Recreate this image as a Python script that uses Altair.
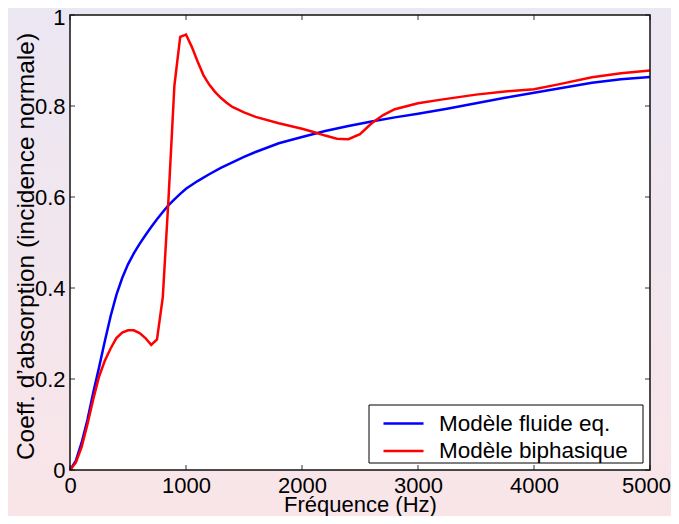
import altair as alt
import pandas as pd

# ---- data ----
freq_fluide = [0, 50, 100, 150, 200, 250, 300, 350, 400, 450, 500, 550, 600, 650, 700, 750, 800,
               850, 900, 950, 1000, 1100, 1200, 1300, 1400, 1500, 1600, 1800, 2000, 2200, 2400,
               2600, 2800, 3000, 3250, 3500, 3750, 4000, 4250, 4500, 4750, 5000]
abs_fluide = [0, 0.02, 0.06, 0.11, 0.17, 0.225, 0.283, 0.338, 0.385, 0.422, 0.452, 0.476, 0.497,
              0.516, 0.534, 0.551, 0.567, 0.582, 0.595, 0.607, 0.618, 0.635, 0.650, 0.664,
              0.676, 0.688, 0.699, 0.718, 0.732, 0.745, 0.756, 0.766, 0.775, 0.783, 0.794,
              0.806, 0.818, 0.829, 0.840, 0.851, 0.859, 0.864]

freq_bi = [0, 50, 100, 150, 200, 250, 300, 350, 400, 450, 500, 550, 600, 650, 700, 750, 800,
           850, 900, 950, 1000, 1050, 1100, 1150, 1200, 1250, 1300, 1350, 1400, 1500, 1600,
           1800, 2000, 2100, 2200, 2300, 2400, 2500, 2600, 2700, 2800, 3000, 3200, 3500, 3750,
           4000, 4200, 4500, 4750, 5000]
abs_bi = [0, 0.016, 0.05, 0.10, 0.155, 0.205, 0.24, 0.267, 0.29, 0.302, 0.307, 0.307, 0.301,
          0.29, 0.275, 0.287, 0.38, 0.60, 0.845, 0.952, 0.957, 0.93, 0.898, 0.868, 0.847,
          0.831, 0.818, 0.807, 0.798, 0.786, 0.776, 0.762, 0.750, 0.743, 0.735, 0.728, 0.727,
          0.738, 0.762, 0.780, 0.793, 0.806, 0.814, 0.825, 0.832, 0.837, 0.847, 0.863, 0.872,
          0.878]

series_names = ["Modèle fluide eq.", "Modèle biphasique"]
series_colors = ["#0000ff", "#ff0000"]
x_ticks = [0, 1000, 2000, 3000, 4000, 5000]
y_ticks = [0, 0.2, 0.4, 0.6, 0.8, 1]

W, H = 580, 455
PAD = {"left": 62, "top": 7, "right": 21, "bottom": 46}
FONT = "Liberation Sans"

df = pd.concat([
    pd.DataFrame({"freq": freq_fluide, "abs": abs_fluide, "serie": series_names[0]}),
    pd.DataFrame({"freq": freq_bi, "abs": abs_bi, "serie": series_names[1]}),
], ignore_index=True)

x_scale = alt.Scale(domain=[0, 5000], nice=False, zero=False)
y_scale = alt.Scale(domain=[0, 1], nice=False)
one = pd.DataFrame({"k": [0]})

bg = alt.Chart(one).mark_rect(
    fill=alt.LinearGradient(
        gradient="linear", x1=0, y1=0, x2=0, y2=1,
        stops=[alt.GradientStop(color="#ebe7f3", offset=0),
               alt.GradientStop(color="#f9e5e8", offset=1)],
    )
).encode(x=alt.value(-PAD["left"]), x2=alt.value(W + PAD["right"]),
         y=alt.value(-PAD["top"]), y2=alt.value(H + PAD["bottom"]))

plot_bg = alt.Chart(one).mark_rect(fill="white").encode(
    x=alt.value(0), x2=alt.value(W), y=alt.value(0), y2=alt.value(H))

x_axis = alt.Axis(values=x_ticks, format="d", title="Fréquence (Hz)",
                  labelFont=FONT, titleFont=FONT, labelFontSize=22, titleFontSize=22,
                  labelColor="black", titleColor="black", titleFontWeight="normal",
                  ticks=False, tickSize=0, domain=False, grid=False, labelPadding=5,
                  labelOffset={"condition": {"test": "datum.value == 5000", "value": -4},
                               "value": 0},
                  labelFlush=False, labelOverlap=False, titleBaseline="alphabetic",
                  titleY=41, titleX=W / 2, titleAlign="center", zindex=1)
y_axis = alt.Axis(values=y_ticks, format="~g", title="Coeff. d’absorption (incidence normale)",
                  labelFont=FONT, titleFont=FONT, labelFontSize=22, titleFontSize=24.5,
                  labelColor="black", titleColor="black", titleFontWeight="normal",
                  ticks=False, tickSize=0, domain=False, grid=False, labelPadding=5,
                  labelOffset={"condition": {"test": "datum.value == 1", "value": 2},
                               "value": 0},
                  labelFlush=False, labelOverlap=False, titleAngle=270,
                  titleBaseline="alphabetic", titleAlign="center", titleX=-37, titleY=231,
                  zindex=1)

legend_box = alt.Chart(one).mark_rect(fill="white", stroke="black", strokeWidth=1).encode(
    x=alt.value(299), x2=alt.value(573), y=alt.value(390), y2=alt.value(448))

lines = alt.Chart(df).mark_line(strokeWidth=2.5).encode(
    x=alt.X("freq:Q", scale=x_scale, axis=x_axis),
    y=alt.Y("abs:Q", scale=y_scale, axis=y_axis),
    color=alt.Color("serie:N", scale=alt.Scale(domain=series_names, range=series_colors),
                    legend=alt.Legend(orient="none", legendX=321, legendY=396, title=None,
                                      symbolType="M-1.82,0H1.82", symbolSize=484,
                                      symbolStrokeWidth=2.5, labelFont=FONT,
                                      labelFontSize=22.5, labelColor="black", labelOffset=23,
                                      rowPadding=3.5, padding=0, zindex=1, labelLimit=400)),
)

xt = pd.DataFrame({"t": x_ticks})
yt = pd.DataFrame({"t": y_ticks})
TICK = 5
tick_color = "#333333"
xtick_b = alt.Chart(xt).mark_rule(color=tick_color, strokeWidth=1).encode(
    x=alt.X("t:Q", scale=x_scale, axis=x_axis), y=alt.value(H), y2=alt.value(H - TICK))
xtick_t = alt.Chart(xt).mark_rule(color=tick_color, strokeWidth=1).encode(
    x=alt.X("t:Q", scale=x_scale, axis=x_axis), y=alt.value(0), y2=alt.value(TICK))
ytick_l = alt.Chart(yt).mark_rule(color=tick_color, strokeWidth=1).encode(
    y=alt.Y("t:Q", scale=y_scale, axis=y_axis), x=alt.value(0), x2=alt.value(TICK))
ytick_r = alt.Chart(yt).mark_rule(color=tick_color, strokeWidth=1).encode(
    y=alt.Y("t:Q", scale=y_scale, axis=y_axis), x=alt.value(W), x2=alt.value(W - TICK))

frame = alt.Chart(one).mark_rect(fillOpacity=0, stroke="#111111", strokeWidth=1.5).encode(
    x=alt.value(0), x2=alt.value(W), y=alt.value(0), y2=alt.value(H))

chart = alt.layer(
    bg, plot_bg, legend_box, lines, xtick_b, xtick_t, ytick_l, ytick_r, frame
).properties(
    width=W, height=H, padding=PAD,
    autosize=alt.AutoSizeParams(type="none"),
    background="white",
).configure_view(strokeWidth=0).configure(font=FONT)

chart.save("out.html", embed_options={"renderer": "svg", "actions": False})
